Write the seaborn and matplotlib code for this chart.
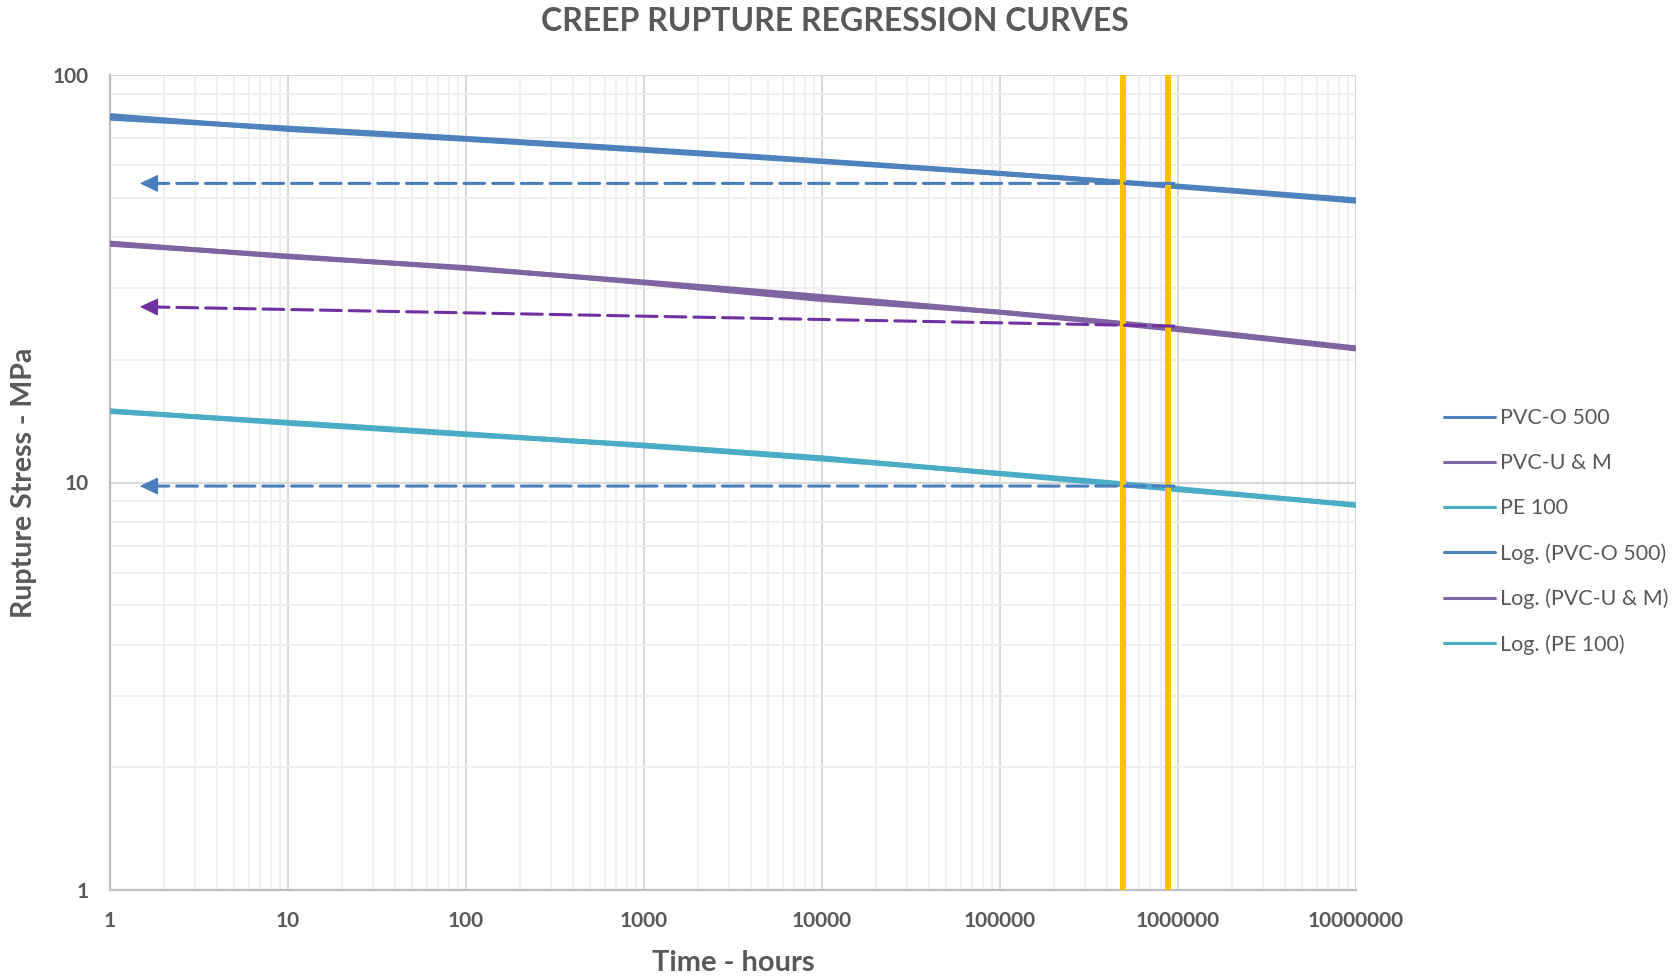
import numpy as np
import pandas as pd
import matplotlib
matplotlib.use("Agg")
import matplotlib.pyplot as plt
import seaborn as sns
from matplotlib.ticker import LogLocator, FixedLocator, FixedFormatter, NullFormatter
from matplotlib.lines import Line2D

# ---- data -------------------------------------------------------------
hours = [1, 10, 100, 1000, 10000, 100000, 1000000, 10000000]
pvc_o_500 = [79.5, 73.5, 69.5, 65.3, 61.3, 57.3, 53.4, 49.4]
pvc_u_m = [38.7, 35.8, 33.7, 30.9, 28.1, 26.2, 23.9, 21.4]
pe_100 = [15.0, 13.97, 13.1, 12.36, 11.5, 10.5, 9.6, 8.82]

series_names = ["PVC-O 500", "PVC-U & M", "PE 100"]
series_colors = ["#4F81BD", "#8064A2", "#4BACC6"]

# design-life markers (hours)
design_hours = [490000, 876000]

# reading arrows from the design life back to the stress axis
arrow_tail_x = [950000, 950000, 950000]
arrow_tip_x = [1.47, 1.47, 1.47]
arrow_tail_y = [54.2, 24.2, 9.8]
arrow_tip_y = [54.2, 27.0, 9.8]
arrow_colors = ["#4A7EBB", "#7030A0", "#4A7EBB"]

x_tick_values = [1, 10, 100, 1000, 10000, 100000, 1000000, 10000000]
x_tick_labels = ["1", "10", "100", "1000", "10000", "100000", "1000000", "10000000"]
y_tick_values = [1, 10, 100]
y_tick_labels = ["1", "10", "100"]

TEXT = "#595959"
FONT = ["Lato", "DejaVu Sans"]
DPI = 100

# ---- figure -----------------------------------------------------------
sns.set_style("white")
plt.rcParams["font.family"] = FONT

fig = plt.figure(figsize=(16.77, 9.77), dpi=DPI)
ax = fig.add_axes([110 / 1677, 1 - 890 / 977, 1246 / 1677, 815 / 977])

ax.set_xscale("log")
ax.set_yscale("log")
ax.set_xlim(1, 1e7)
ax.set_ylim(1, 100)

df = pd.DataFrame({
    "hours": hours * 3,
    "stress": pvc_o_500 + pvc_u_m + pe_100,
    "series": [n for n in series_names for _ in hours],
})

# measured series
sns.lineplot(data=df, x="hours", y="stress", hue="series", hue_order=series_names,
             palette=series_colors, lw=3.5, legend=False, ax=ax, zorder=4)

# logarithmic trendlines: stress = a*ln(t) + b
t_fit = np.geomspace(hours[0], hours[-1], 300)
fit_rows = []
for name, vals in zip(series_names, [pvc_o_500, pvc_u_m, pe_100]):
    a, b = np.polyfit(np.log(hours), vals, 1)
    fit_rows.append(pd.DataFrame({"hours": t_fit, "stress": a * np.log(t_fit) + b,
                                  "series": "Log. (" + name + ")"}))
fit_df = pd.concat(fit_rows, ignore_index=True)
fit_names = ["Log. (" + n + ")" for n in series_names]
sns.lineplot(data=fit_df, x="hours", y="stress", hue="series", hue_order=fit_names,
             palette=series_colors, lw=3.5, legend=False, ax=ax, zorder=4)

ax.set_xlim(1, 1e7)
ax.set_ylim(1, 100)

# design-life verticals
for h in design_hours:
    ax.axvline(h, color="#FFC000", lw=4.3, zorder=5)

# dashed reading arrows: dashed shaft plus a solid head
HEAD_LEN = 1.15   # in units of mutation_scale (10 pt)
HEAD_WID = 0.55
for x0, y0, x1, y1, c in zip(arrow_tail_x, arrow_tail_y, arrow_tip_x, arrow_tip_y, arrow_colors):
    p0 = ax.transData.transform((x0, y0))
    p1 = ax.transData.transform((x1, y1))
    length_pt = np.hypot(*(p1 - p0)) * 72 / DPI
    head_pt = HEAD_LEN * 10
    ax.annotate("", xy=(x1, y1), xytext=(x0, y0),
                arrowprops=dict(arrowstyle="-", lw=2.2, color=c, ls=(0, (6.8, 2.6)),
                                shrinkA=0, shrinkB=head_pt - 1),
                zorder=6)
    ax.annotate("", xy=(x1, y1), xytext=(x0, y0),
                arrowprops=dict(arrowstyle=f"-|>,head_length={HEAD_LEN},head_width={HEAD_WID}",
                                lw=1.0, color=c, mutation_scale=10,
                                shrinkA=length_pt - head_pt - 0.5, shrinkB=0),
                zorder=6)

# ---- axes -------------------------------------------------------------
ax.xaxis.set_major_locator(FixedLocator(x_tick_values))
ax.xaxis.set_major_formatter(FixedFormatter(x_tick_labels))
ax.xaxis.set_minor_locator(LogLocator(base=10, subs=np.arange(2, 10)))
ax.xaxis.set_minor_formatter(NullFormatter())
ax.yaxis.set_major_locator(FixedLocator(y_tick_values))
ax.yaxis.set_major_formatter(FixedFormatter(y_tick_labels))
ax.yaxis.set_minor_locator(LogLocator(base=10, subs=np.arange(2, 10)))
ax.yaxis.set_minor_formatter(NullFormatter())

ax.grid(which="major", color="#D9D9D9", lw=1.5, zorder=0)
ax.grid(which="minor", color="#EEEEEE", lw=1.3, zorder=0)
ax.set_axisbelow(True)

for s in ["top", "right"]:
    ax.spines[s].set_visible(False)
for s in ["left", "bottom"]:
    ax.spines[s].set_color("#BFBFBF")
    ax.spines[s].set_linewidth(1.6)

ax.tick_params(axis="x", which="both", length=0, pad=15, labelsize=15, labelcolor=TEXT)
ax.tick_params(axis="y", which="both", length=5, width=1.4, color="#BFBFBF",
               pad=10, labelsize=15, labelcolor=TEXT)
for lab in ax.get_xticklabels() + ax.get_yticklabels():
    lab.set_fontweight("bold")

ax.set_xlabel("Time - hours", fontsize=21, fontweight="bold", color=TEXT, va="center")
ax.set_ylabel("Rupture Stress - MPa", fontsize=20.5, fontweight="bold", color=TEXT,
              va="center")
ax.xaxis.set_label_coords(0.5, -0.089)
ax.yaxis.set_label_coords(-0.0694, 0.5)

fig.suptitle("CREEP RUPTURE REGRESSION CURVES", x=0.498, y=0.978, va="center",
             fontsize=23, fontweight="bold", color=TEXT)

# ---- legend -----------------------------------------------------------
handles = [Line2D([], [], color=c, lw=2.2, solid_capstyle="round")
           for c in series_colors * 2]
labels = series_names + fit_names
fig.legend(handles, labels, loc="center left", bbox_to_anchor=(1444 / 1677, 0.456),
           frameon=False, fontsize=15.5, labelcolor=TEXT, handlelength=2.37,
           handletextpad=0.25, labelspacing=1.16, borderpad=0, borderaxespad=0)

fig.savefig("out.png", dpi=DPI)
